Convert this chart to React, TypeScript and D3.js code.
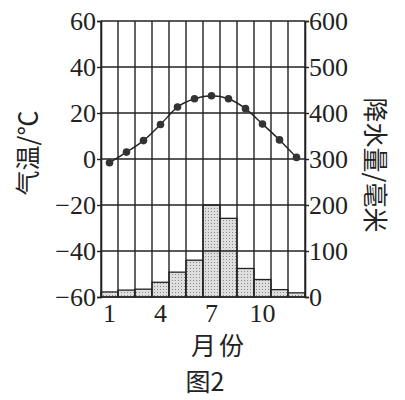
import React, { useEffect, useRef } from 'react';
import * as d3 from 'd3';

const months = [1, 2, 3, 4, 5, 6, 7, 8, 9, 10, 11, 12];
const temperature = [-1.6, 3, 8, 15, 22.6, 26.2, 27.5, 26.2, 21.9, 15.2, 8.3, 0.7];
const precipitation = [11, 15, 17, 32, 54, 80, 200, 171, 62, 38, 16, 9];
const tempTicks = [-60, -40, -20, 0, 20, 40, 60];
const precTicks = [0, 100, 200, 300, 400, 500, 600];
const monthLabels = [1, 4, 7, 10];

function App() {
	const svgRef = useRef(null);

	useEffect(() => {
		const svg = d3.select(svgRef.current);
		svg.selectAll('*').remove();

		const left = 101, right = 305, top = 21, bottom = 297;
		const ink = '#222';
		const serif = "'Liberation Serif', 'Times New Roman', 'DejaVu Serif', serif";
		const cjk = "'Noto Sans CJK SC', sans-serif";

		const x = d3.scaleBand().domain(months.map(String)).range([left, right]).padding(0);
		const yT = d3.scaleLinear().domain([-60, 60]).range([bottom, top]);
		const yP = d3.scaleLinear().domain([0, 600]).range([bottom, top]);

		// stipple fill for the bars
		const pat = svg.append('defs').append('pattern')
			.attr('id', 'stipple')
			.attr('width', 3).attr('height', 3)
			.attr('patternUnits', 'userSpaceOnUse');
		pat.append('rect').attr('width', 3).attr('height', 3).attr('fill', '#dedede');
		pat.append('rect').attr('x', 1).attr('y', 1).attr('width', 1).attr('height', 1).attr('fill', '#8a8a8a');

		const g = svg.append('g');

		// bars
		g.selectAll('.bar')
			.data(precipitation)
			.join('rect')
			.attr('x', (d, i) => x(String(months[i])))
			.attr('y', d => yP(d))
			.attr('width', x.bandwidth())
			.attr('height', d => bottom - yP(d))
			.attr('fill', 'url(#stipple)')
			.attr('stroke', ink)
			.attr('stroke-width', 1.3);

		// grid
		g.selectAll('.hgrid')
			.data(tempTicks)
			.join('line')
			.attr('x1', left)
			.attr('x2', right)
			.attr('y1', d => yT(d))
			.attr('y2', d => yT(d))
			.attr('stroke', ink)
			.attr('stroke-width', 1.4);

		const bounds = months.map(m => x(String(m))).concat([right]);
		g.selectAll('.vgrid')
			.data(bounds)
			.join('line')
			.attr('x1', d => d)
			.attr('x2', d => d)
			.attr('y1', top)
			.attr('y2', bottom)
			.attr('stroke', ink)
			.attr('stroke-width', 1.4);

		// axes (ticks + domain only; labels drawn below)
		const la = svg.append('g').attr('transform', `translate(${left},0)`)
			.call(d3.axisLeft(yT).tickValues(tempTicks).tickSize(4).tickFormat(() => ''));
		const ra = svg.append('g').attr('transform', `translate(${right},0)`)
			.call(d3.axisRight(yP).tickValues(precTicks).tickSize(4).tickFormat(() => ''));
		[la, ra].forEach(a => {
			a.selectAll('text').remove();
			a.select('.domain').attr('stroke', ink).attr('stroke-width', 1.6);
			a.selectAll('.tick line').attr('stroke', ink).attr('stroke-width', 1.4);
		});

		const num = (sel: any) => sel
			.style('font-family', serif)
			.style('font-size', '26px')
			.attr('fill', ink);

		svg.selectAll('.tlab')
			.data(tempTicks)
			.join('text')
			.attr('x', left - 5)
			.attr('y', d => yT(d))
			.attr('dy', '0.34em')
			.attr('text-anchor', 'end')
			.call(num)
			.text(d => (d < 0 ? '\u2212' + Math.abs(d) : String(d)));

		svg.selectAll('.plab')
			.data(precTicks)
			.join('text')
			.attr('x', right + 4)
			.attr('y', d => yP(d))
			.attr('dy', '0.34em')
			.attr('text-anchor', 'start')
			.call(num)
			.text(d => String(d));

		// temperature line
		const cx = (i: number) => x(String(months[i])) + x.bandwidth() / 2;
		const line = d3.line<number>()
			.x((d, i) => cx(i))
			.y(d => yT(d))
			.curve(d3.curveCardinal);
		g.append('path')
			.datum(temperature)
			.attr('d', line)
			.attr('fill', 'none')
			.attr('stroke', ink)
			.attr('stroke-width', 1.4);
		g.selectAll('.pt')
			.data(temperature)
			.join('circle')
			.attr('cx', (d, i) => cx(i))
			.attr('cy', d => yT(d))
			.attr('r', 3.8)
			.attr('fill', '#333');

		// month labels
		svg.selectAll('.mlab')
			.data(monthLabels)
			.join('text')
			.attr('x', d => x(String(d)) + x.bandwidth() / 2)
			.attr('y', 322)
			.attr('text-anchor', 'middle')
			.call(num)
			.text(d => d);

		const cjkText = (t: string, tr: string) =>
			svg.append('text')
				.attr('transform', tr)
				.attr('text-anchor', 'middle')
				.style('font-family', cjk)
				.style('font-size', '25px')
				.attr('fill', ink)
				.text(t);

		cjkText('月份', 'translate(219,355)').attr('letter-spacing', 3);
		cjkText('图2', 'translate(205,391)');
		cjkText('气温/℃', 'translate(37,153) rotate(-90)');
		cjkText('降水量/毫米', 'translate(366,165) rotate(90)');
	}, []);

	return (
		<svg ref={svgRef} width={405} height={400}
			style={{ position: 'absolute', left: 0, top: 0, background: '#fff' }} />
	);
}

export default App;
